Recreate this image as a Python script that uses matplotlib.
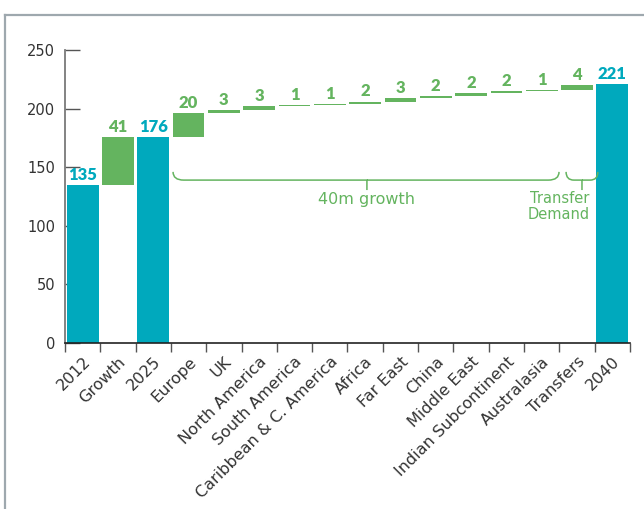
import matplotlib
matplotlib.use('Agg')
import matplotlib.pyplot as plt
from matplotlib.path import Path
from matplotlib.patches import PathPatch
from matplotlib.lines import Line2D

plt.rcParams['font.family'] = ['DejaVu Sans']

# chart data
categories = ['2012', 'Growth', '2025', 'Europe', 'UK', 'North America', 'South America',
              'Caribbean & C. America', 'Africa', 'Far East', 'China', 'Middle East',
              'Indian Subcontinent', 'Australasia', 'Transfers', '2040']
values = [135, 41, 176, 20, 3, 3, 1, 1, 2, 3, 2, 2, 2, 1, 4, 221]
is_total = [True, False, True, False, False, False, False, False, False, False,
            False, False, False, False, False, True]
yticks = [0, 50, 100, 150, 200, 250]

TEAL = '#00a9bd'
GREEN = '#64b45f'
TEXT = '#333333'

fig = plt.figure(figsize=(6.44, 5.09), dpi=100)
ax = fig.add_axes([65 / 644, 166 / 509, 565 / 644, 293 / 509])

# waterfall bottoms
bottoms = []
running = 0
for v, tot in zip(values, is_total):
    if tot:
        bottoms.append(0)
        running = v
    else:
        bottoms.append(running)
        running += v

x = list(range(len(categories)))
colors = [TEAL if t else GREEN for t in is_total]
ax.bar(x, values, bottom=bottoms, width=0.9, color=colors, zorder=3)

for xi, v, b, t in zip(x, values, bottoms, is_total):
    ax.annotate(str(v), (xi, b + v), xytext=(0, 1.5), textcoords='offset points',
                ha='center', va='bottom', fontsize=12, fontweight='heavy',
                family=['Lato', 'DejaVu Sans'], color=TEAL if t else GREEN)

ax.set_xlim(-0.5, len(categories) - 0.5)
ax.set_ylim(0, 250)

# axes styling
for s in ['top', 'right']:
    ax.spines[s].set_visible(False)
ax.spines['left'].set_color('#7a7a7a')
ax.spines['left'].set_linewidth(1.3)
ax.spines['bottom'].set_color('#222222')
ax.spines['bottom'].set_linewidth(1.2)
ax.spines['bottom'].set_zorder(4)

ax.set_yticks(yticks)
ax.tick_params(axis='y', direction='in', length=11, width=1, color='#555555',
               labelsize=10.5, labelcolor=TEXT, pad=7)

ax.set_xticks(x)
ax.set_xticklabels(categories, rotation=45, ha='right', va='top',
                   rotation_mode='anchor', fontsize=11.5, color=TEXT)
ax.tick_params(axis='x', which='major', length=0, pad=8)
ax.set_xticks([i - 0.5 for i in range(len(categories) + 1)], minor=True)
ax.tick_params(axis='x', which='minor', direction='out', length=6.5, width=1,
               color='#555555')


def brace(x0, x1, xm, y, h, d, r):
    verts = [(x0, y + h), (x0, y), (x0 + r, y), (xm, y), (xm, y - d),
             (xm, y), (x1 - r, y), (x1, y), (x1, y + h)]
    codes = [Path.MOVETO, Path.CURVE3, Path.CURVE3, Path.LINETO, Path.LINETO,
             Path.MOVETO, Path.LINETO, Path.CURVE3, Path.CURVE3]
    ax.add_patch(PathPatch(Path(verts, codes), fill=False, edgecolor=GREEN,
                           lw=1.1, zorder=3, clip_on=False))


brace(2.56, 13.49, 8.05, 139, 7, 8.5, 0.3)
brace(13.69, 14.59, 14.14, 139, 7, 8.5, 0.22)
ax.text(8.05, 122.5, '40m growth', ha='center', va='center', fontsize=11.5, color=GREEN)
ax.text(14.36, 116.5, 'Transfer\nDemand', ha='right', va='center', fontsize=10.5,
        color=GREEN, linespacing=1.05)

# frame around the figure
fig.add_artist(Line2D([5 / 644, 5 / 644], [0, 1 - 15 / 509], color='#9ea8ae', lw=1.6))
fig.add_artist(Line2D([5 / 644, 1], [1 - 15 / 509, 1 - 15 / 509], color='#9ea8ae', lw=1.6))

fig.savefig('out.png', dpi=100)
